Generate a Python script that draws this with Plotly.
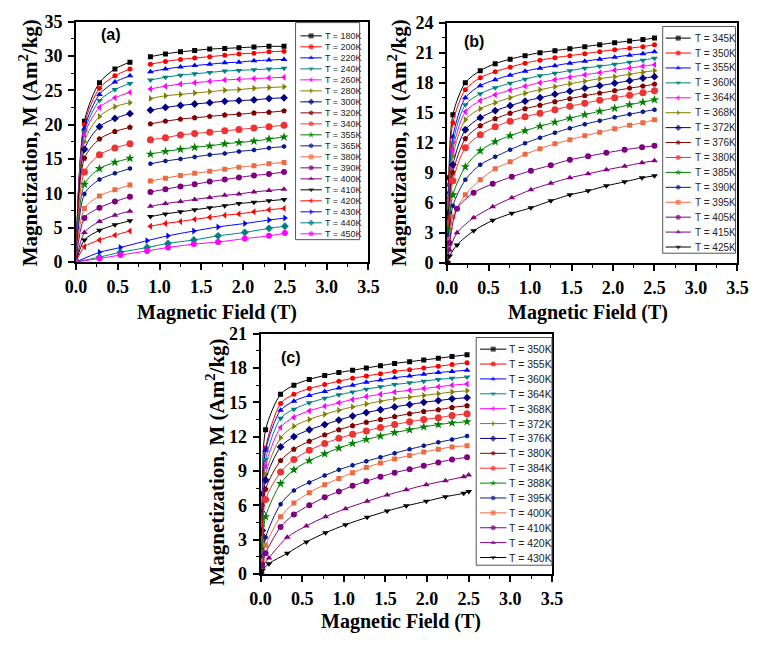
import plotly.graph_objects as go

W, H = 764, 645

# ---------------- Panel (a) data ----------------
field_a = [0.0, 0.10, 0.28, 0.465, 0.645, 0.89, 1.07, 1.25, 1.42, 1.60, 1.78, 1.95, 2.13, 2.31, 2.49]
field_a_low = [0.0, 0.28, 0.53, 0.85, 1.10, 1.41, 1.70, 2.02, 2.31, 2.50]
temps_a = ["180K", "200K", "220K", "240K", "260K", "280K", "300K", "320K", "340K", "355K",
           "365K", "380K", "390K", "400K", "410K", "420K", "430K", "440K", "450K"]
a_180K = [0, 20.5, 26.1, 28.1, 29.1, 29.9, 30.3, 30.6, 30.8, 31.0, 31.1, 31.2, 31.3, 31.4, 31.4]
a_200K = [0, 20.0, 25.3, 27.1, 28.1, 28.8, 29.2, 29.5, 29.7, 29.9, 30.1, 30.3, 30.4, 30.6, 30.7]
a_220K = [0, 19.4, 24.4, 26.2, 27.1, 27.7, 28.1, 28.4, 28.6, 28.8, 29.0, 29.1, 29.3, 29.4, 29.5]
a_240K = [0, 18.9, 23.5, 25.1, 26.0, 26.5, 26.9, 27.2, 27.4, 27.6, 27.8, 27.9, 28.0, 28.1, 28.2]
a_260K = [0, 18.5, 22.5, 23.9, 24.7, 25.2, 25.6, 25.9, 26.1, 26.3, 26.5, 26.6, 26.7, 26.8, 26.9]
a_280K = [0, 17.5, 21.2, 22.6, 23.2, 23.8, 24.2, 24.4, 24.6, 24.8, 25.0, 25.1, 25.3, 25.4, 25.5]
a_300K = [0, 16.4, 19.7, 20.9, 21.6, 22.1, 22.5, 22.8, 23.0, 23.2, 23.4, 23.5, 23.6, 23.8, 23.9]
a_320K = [0, 15.1, 17.9, 19.0, 19.6, 20.1, 20.5, 20.8, 21.0, 21.2, 21.4, 21.5, 21.7, 21.8, 22.0]
a_340K = [0, 13.1, 15.6, 16.6, 17.2, 17.8, 18.1, 18.5, 18.7, 18.9, 19.1, 19.3, 19.5, 19.7, 19.9]
a_355K = [0, 11.3, 13.6, 14.5, 15.1, 15.7, 16.1, 16.4, 16.7, 16.9, 17.2, 17.4, 17.6, 17.9, 18.2]
a_365K = [0, 9.9, 12.0, 12.9, 13.6, 14.3, 14.7, 15.0, 15.3, 15.6, 15.8, 16.1, 16.3, 16.6, 16.8]
a_380K = [0, 7.8, 9.6, 10.5, 11.2, 11.8, 12.2, 12.6, 12.9, 13.2, 13.5, 13.8, 14.0, 14.3, 14.5]
a_390K = [0, 6.4, 7.9, 8.8, 9.5, 10.2, 10.6, 11.0, 11.3, 11.7, 12.0, 12.3, 12.6, 12.8, 13.1]
a_400K = [0, 4.3, 5.9, 6.8, 7.4, 8.1, 8.5, 8.8, 9.1, 9.4, 9.7, 9.9, 10.2, 10.4, 10.6]
a_410K = [0, 3.2, 4.6, 5.4, 6.0, 6.6, 7.0, 7.3, 7.6, 7.9, 8.2, 8.5, 8.7, 8.9, 9.1]
a_420K = [0, 2.2, 3.2, 3.9, 4.5, 5.2, 5.6, 5.9, 6.2, 6.5, 6.8, 7.0, 7.3, 7.6, 7.8]
a_430K = [0, 1.4, 2.1, 3.1, 3.8, 4.5, 5.1, 5.6, 6.1, 6.4]
a_440K = [0, 0.7, 1.4, 2.1, 2.7, 3.2, 3.8, 4.3, 4.9, 5.2]
a_450K = [0, 0.5, 1.0, 1.6, 2.1, 2.6, 2.9, 3.4, 3.8, 4.2]

# ---------------- Panel (b) data ----------------
field_b = [0.0, 0.02, 0.07, 0.22, 0.40, 0.58, 0.76, 0.94, 1.12, 1.30, 1.48, 1.66, 1.84, 2.02, 2.20, 2.36, 2.50]
field_b_low = [0.0, 0.03, 0.12, 0.32, 0.55, 0.78, 1.01, 1.25, 1.48, 1.70, 1.92, 2.14, 2.35, 2.50]
temps_b = ["345K", "350K", "355K", "360K", "364K", "368K", "372K", "376K", "380K", "385K",
           "390K", "395K", "405K", "415K", "425K"]
b_345K = [0, 8.5, 14.8, 18.0, 19.2, 19.9, 20.35, 20.7, 21.0, 21.2, 21.4, 21.6, 21.8, 22.0, 22.15, 22.3, 22.45]
b_350K = [0, 7.8, 14.0, 17.3, 18.5, 19.1, 19.55, 19.95, 20.25, 20.5, 20.7, 20.9, 21.1, 21.3, 21.45, 21.6, 21.8]
b_355K = [0, 7.0, 12.6, 16.5, 17.7, 18.3, 18.75, 19.15, 19.45, 19.7, 19.95, 20.15, 20.35, 20.55, 20.75, 20.9, 21.1]
b_360K = [0, 6.5, 12.0, 15.8, 16.9, 17.5, 17.95, 18.35, 18.7, 18.95, 19.2, 19.45, 19.65, 19.85, 20.05, 20.25, 20.45]
b_364K = [0, 6.0, 11.3, 15.1, 16.2, 16.8, 17.25, 17.65, 18.0, 18.3, 18.55, 18.8, 19.0, 19.25, 19.45, 19.65, 19.8]
b_368K = [0, 5.5, 10.7, 14.3, 15.4, 16.0, 16.5, 16.95, 17.3, 17.6, 17.9, 18.15, 18.4, 18.6, 18.85, 19.05, 19.2]
b_372K = [0, 5.0, 9.8, 13.3, 14.5, 15.2, 15.7, 16.15, 16.5, 16.85, 17.15, 17.45, 17.7, 17.95, 18.2, 18.45, 18.6]
b_376K = [0, 4.5, 9.0, 12.4, 13.7, 14.4, 14.95, 15.4, 15.75, 16.1, 16.4, 16.7, 16.95, 17.2, 17.45, 17.65, 17.85]
b_380K = [0, 4.0, 8.2, 11.5, 12.8, 13.6, 14.15, 14.6, 14.95, 15.3, 15.65, 15.95, 16.25, 16.5, 16.75, 17.0, 17.2]
b_385K = [0, 3.3, 6.8, 9.6, 11.2, 12.1, 12.7, 13.2, 13.65, 14.05, 14.45, 14.8, 15.15, 15.45, 15.8, 16.05, 16.3]
b_390K = [0, 2.8, 5.7, 8.3, 9.8, 10.6, 11.3, 11.95, 12.5, 13.0, 13.45, 13.85, 14.2, 14.55, 14.85, 15.1, 15.3]
b_395K = [0, 2.3, 4.6, 6.8, 8.3, 9.4, 10.1, 10.85, 11.4, 11.9, 12.3, 12.7, 13.05, 13.4, 13.75, 14.0, 14.3]
b_405K = [0, 2.0, 5.4, 7.0, 7.9, 8.6, 9.2, 9.75, 10.3, 10.65, 11.0, 11.3, 11.55, 11.7]
b_415K = [0, 1.3, 3.0, 4.5, 5.6, 6.5, 7.3, 7.95, 8.5, 8.9, 9.3, 9.65, 10.0, 10.2]
b_425K = [0, 0.7, 1.8, 3.2, 4.25, 4.95, 5.5, 6.2, 6.8, 7.2, 7.7, 8.1, 8.5, 8.7]

# ---------------- Panel (c) data ----------------
field_c = [0.0, 0.02, 0.06, 0.24, 0.40, 0.585, 0.77, 0.94, 1.105, 1.27, 1.44, 1.61, 1.79, 1.96, 2.135, 2.30, 2.48]
field_c_low = [0.0, 0.02, 0.10, 0.32, 0.55, 0.78, 1.02, 1.28, 1.52, 1.75, 1.99, 2.22, 2.44, 2.50]
temps_c = ["350K", "355K", "360K", "364K", "368K", "372K", "376K", "380K", "384K", "388K",
           "395K", "400K", "410K", "420K", "430K"]
c_350K = [0, 7.0, 12.6, 15.7, 16.5, 17.0, 17.35, 17.6, 17.8, 18.0, 18.2, 18.4, 18.55, 18.7, 18.85, 19.0, 19.15]
c_355K = [0, 6.0, 11.0, 14.9, 15.7, 16.2, 16.55, 16.85, 17.1, 17.3, 17.5, 17.7, 17.85, 18.0, 18.15, 18.3, 18.45]
c_360K = [0, 5.5, 10.8, 14.3, 15.1, 15.6, 15.95, 16.25, 16.5, 16.75, 16.95, 17.15, 17.3, 17.45, 17.6, 17.7, 17.8]
c_364K = [0, 5.0, 10.0, 13.6, 14.4, 14.95, 15.35, 15.65, 15.9, 16.15, 16.35, 16.55, 16.7, 16.85, 17.0, 17.1, 17.2]
c_368K = [0, 4.6, 9.4, 12.8, 13.7, 14.25, 14.65, 14.95, 15.25, 15.5, 15.7, 15.9, 16.05, 16.2, 16.35, 16.5, 16.6]
c_372K = [0, 4.2, 8.7, 11.9, 12.9, 13.5, 13.95, 14.3, 14.6, 14.85, 15.1, 15.3, 15.45, 15.6, 15.75, 15.9, 16.0]
c_376K = [0, 3.8, 8.2, 11.1, 12.0, 12.6, 13.05, 13.45, 13.8, 14.1, 14.35, 14.6, 14.8, 15.0, 15.15, 15.3, 15.4]
c_380K = [0, 3.4, 7.4, 9.9, 10.9, 11.6, 12.15, 12.6, 12.95, 13.25, 13.5, 13.75, 14.0, 14.2, 14.35, 14.55, 14.7]
c_384K = [0, 3.0, 6.5, 8.9, 10.0, 10.8, 11.4, 11.85, 12.2, 12.5, 12.8, 13.05, 13.3, 13.5, 13.65, 13.85, 14.0]
c_388K = [0, 2.3, 5.0, 7.9, 9.1, 9.9, 10.5, 11.0, 11.4, 11.75, 12.05, 12.35, 12.6, 12.85, 13.05, 13.2, 13.3]
c_395K = [0, 1.5, 3.2, 6.1, 7.3, 8.0, 8.6, 9.1, 9.5, 9.85, 10.2, 10.55, 10.9, 11.2, 11.5, 11.75, 12.05]
c_400K = [0, 1.1, 2.5, 5.0, 6.2, 7.1, 7.8, 8.35, 8.85, 9.3, 9.7, 10.05, 10.35, 10.65, 10.9, 11.1, 11.2]
c_410K = [0, 0.8, 1.8, 4.1, 5.2, 6.0, 6.7, 7.2, 7.7, 8.1, 8.5, 8.85, 9.15, 9.45, 9.75, 10.0, 10.2]
c_420K = [0, 0.6, 1.4, 3.2, 4.2, 5.0, 5.7, 6.35, 6.9, 7.35, 7.8, 8.15, 8.5, 8.65]
c_430K = [0, 0.3, 0.9, 1.8, 2.8, 3.6, 4.3, 4.95, 5.5, 5.95, 6.35, 6.75, 7.05, 7.2]

# ---------------- styles ----------------
STYLES = [
    ('#000000', 'square', 5), ('#FF0000', 'circle', 5), ('#0000FF', 'triangle-up', 6),
    ('#008080', 'triangle-down', 6), ('#FF00FF', 'triangle-left', 6), ('#808000', 'triangle-right', 6),
    ('#000080', 'diamond', 6), ('#800000', 'pentagon', 6), ('#F03232', 'circle', 7),
    ('#008000', 'star', 7), ('#0A1A8A', 'hexagon', 5), ('#EE6A40', 'square', 5),
    ('#800080', 'circle', 6), ('#800080', 'triangle-up', 6), ('#000000', 'triangle-down', 6),
    ('#FF0000', 'triangle-left', 6), ('#0000FF', 'triangle-right', 6), ('#008080', 'diamond', 6),
    ('#FF00FF', 'circle', 6),
]

series_a = [a_180K, a_200K, a_220K, a_240K, a_260K, a_280K, a_300K, a_320K, a_340K, a_355K,
            a_365K, a_380K, a_390K, a_400K, a_410K, a_420K, a_430K, a_440K, a_450K]
series_b = [b_345K, b_350K, b_355K, b_360K, b_364K, b_368K, b_372K, b_376K, b_380K, b_385K,
            b_390K, b_395K, b_405K, b_415K, b_425K]
series_c = [c_350K, c_355K, c_360K, c_364K, c_368K, c_372K, c_376K, c_380K, c_384K, c_388K,
            c_395K, c_400K, c_410K, c_420K, c_430K]

fig = go.Figure()


def with_gap(xs, ys, gap_at):
    if gap_at is None:
        return list(xs), list(ys)
    gx, gy = [], []
    for i, (x, y) in enumerate(zip(xs, ys)):
        if i > 0 and xs[i - 1] < gap_at < x:
            gx.append(None)
            gy.append(None)
        gx.append(x)
        gy.append(y)
    return gx, gy


def add_panel(series, fields, xa, ya, gaps):
    for i, vals in enumerate(series):
        col, sym, sz = STYLES[i]
        xs, ys = with_gap(fields[i], vals, gaps[i])
        fig.add_trace(go.Scatter(
            x=xs, y=ys, mode='lines+markers', xaxis=xa, yaxis=ya,
            line=dict(color=col, width=1, shape='spline', smoothing=0.8),
            marker=dict(color=col, symbol=sym, size=sz, line=dict(width=0)),
            showlegend=False, connectgaps=False, hoverinfo='skip'))


fields_a = [field_a] * 16 + [field_a_low] * 3
gaps_a = [0.75] * 16 + [None] * 3
add_panel(series_a, fields_a, 'x', 'y', gaps_a)

fields_b = [field_b] * 12 + [field_b_low] * 3
add_panel(series_b, fields_b, 'x2', 'y2', [None] * 15)

fields_c = [field_c] * 13 + [field_c_low] * 2
add_panel(series_c, fields_c, 'x3', 'y3', [None] * 15)

# ---------------- custom compact legends (pixel overlay axis) ----------------
shapes = []
annotations = []


def add_legend(temps, box, first_y, step, lx0, lx1, tx, fsize, msize):
    x0, x1, y0, y1 = box
    shapes.append(dict(type='rect', xref='x4', yref='y4', x0=x0, x1=x1, y0=y0, y1=y1,
                       line=dict(color='#555555', width=1), fillcolor='white', layer='below'))
    for i, t in enumerate(temps):
        col, sym, sz = STYLES[i]
        yy = first_y + i * step
        mx = (lx0 + lx1) / 2
        fig.add_trace(go.Scatter(
            x=[lx0, mx, lx1], y=[yy, yy, yy], xaxis='x4', yaxis='y4', mode='lines+markers',
            line=dict(color=col, width=1),
            marker=dict(color=col, symbol=sym, size=[0, msize, 0], line=dict(width=0)),
            showlegend=False, hoverinfo='skip'))
        annotations.append(dict(xref='x4', yref='y4', x=tx, y=yy, text='T = ' + t,
                                showarrow=False, xanchor='left', yanchor='middle',
                                font=dict(family='Liberation Sans, Arial', size=fsize, color='#222222')))


add_legend(temps_a, (293, 359, 13, 237), 26.7, 11.35, 298, 320, 321, 9, 5)
add_legend(temps_b, (671, 746, 17, 251), 29, 15.4, 674, 700, 702, 10, 5)
add_legend(temps_c, (479, 557, 338, 573), 350, 15.36, 483, 510, 511, 10.5, 5)

# ---------------- text labels ----------------
SERIF = 'Liberation Serif, Times New Roman, serif'
ytitle = '<b>Magnetization, M (Am<sup>2</sup>/kg)</b>'
xtitle = '<b>Magnetic Field (T)</b>'
for (xc, yc) in [(18, 137), (398, 137), (211, 466)]:
    annotations.append(dict(xref='x4', yref='y4', x=xc, y=yc, text=ytitle, textangle=-90,
                            showarrow=False, xanchor='center', yanchor='middle',
                            font=dict(family=SERIF, size=21, color='black')))
for (xc, yc) in [(212, 312), (594, 312), (402, 631)]:
    annotations.append(dict(xref='x4', yref='y4', x=xc, y=yc, text=xtitle,
                            showarrow=False, xanchor='center', yanchor='middle',
                            font=dict(family=SERIF, size=20, color='black')))
for (lab, xc, yc) in [('(a)', 103, 25), ('(b)', 477, 33), ('(c)', 288, 359)]:
    annotations.append(dict(xref='x4', yref='y4', x=xc, y=yc, text='<b>' + lab + '</b>',
                            showarrow=False, xanchor='center', yanchor='middle',
                            font=dict(family='Liberation Sans, Arial', size=16, color='black')))

# ---------------- axes ----------------
tickfont = dict(family=SERIF, size=18, color='black', weight='bold')


def xax(domain, anchor):
    return dict(domain=domain, anchor=anchor, range=[0, 3.5], tick0=0, dtick=0.5, tickformat='.1f',
                ticks='outside', ticklen=6, tickwidth=1.5, tickcolor='black',
                minor=dict(dtick=0.25, ticks='outside', ticklen=3, tickwidth=1, tickcolor='black'),
                showline=True, linewidth=2, linecolor='black', mirror=True,
                showgrid=False, zeroline=False, tickfont=tickfont, ticklabelstandoff=1,
                fixedrange=True)


def yax(domain, anchor, top, dt):
    return dict(domain=domain, anchor=anchor, range=[0, top], tick0=0, dtick=dt,
                ticks='outside', ticklen=6, tickwidth=1.5, tickcolor='black',
                minor=dict(dtick=dt / 2, ticks='outside', ticklen=3, tickwidth=1, tickcolor='black'),
                showline=True, linewidth=2, linecolor='black', mirror=True,
                showgrid=False, zeroline=False, tickfont=tickfont, ticklabelstandoff=2,
                fixedrange=True)


fig.update_layout(
    width=W, height=H, margin=dict(l=0, r=0, t=0, b=0),
    paper_bgcolor='white', plot_bgcolor='rgba(0,0,0,0)', showlegend=False,
    xaxis=xax([67 / W, 368 / W], 'y'),
    yaxis=yax([1 - 260 / H, 1 - 12 / H], 'x', 35, 5),
    xaxis2=xax([449 / W, 748 / W], 'y2'),
    yaxis2=yax([1 - 261 / H, 1 - 13 / H], 'x2', 24, 3),
    xaxis3=xax([257 / W, 557 / W], 'y3'),
    yaxis3=yax([1 - 582 / H, 1 - 334 / H], 'x3', 21, 3),
    xaxis4=dict(domain=[0, 1], range=[0, W], visible=False, anchor='y4', fixedrange=True),
    yaxis4=dict(domain=[0, 1], range=[H, 0], visible=False, anchor='x4', fixedrange=True),
    shapes=shapes, annotations=annotations,
)

fig.write_html('out.html', config={'displayModeBar': False})
